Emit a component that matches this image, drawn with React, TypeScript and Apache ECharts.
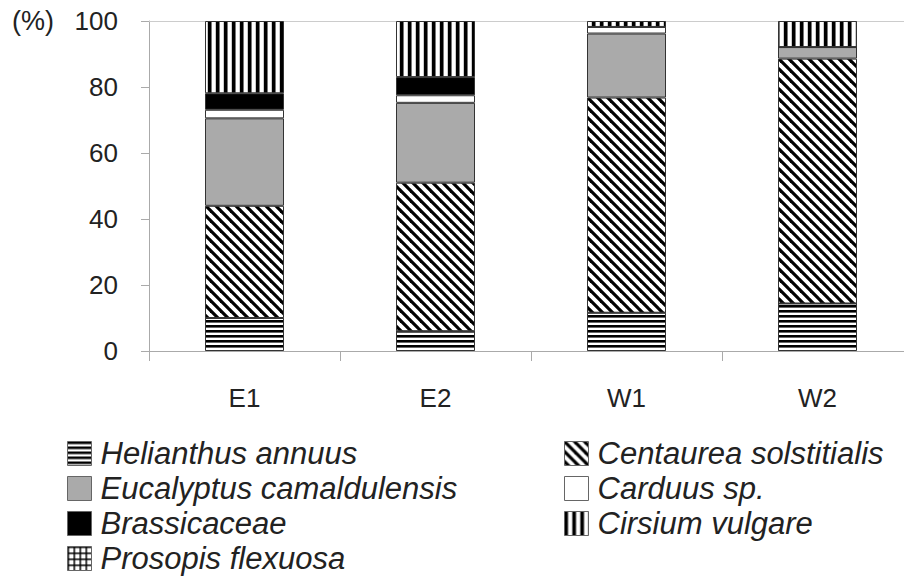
import React, { useEffect, useRef } from "react";
import * as echarts from "echarts";

const categories = ["E1", "E2", "W1", "W2"];
const helianthus = [10, 6, 11.6, 14.4];
const prosopis = [0, 0, 0, 0];
const centaurea = [34, 45, 65.2, 74.2];
const eucalyptus = [26.5, 24.2, 19.4, 3.5];
const carduus = [2.6, 2.3, 2.0, 0];
const brassicaceae = [5, 5.5, 0, 0];
const cirsium = [21.9, 17, 1.8, 7.9];
const yTicks = [0, 20, 40, 60, 80, 100];

const FONT = "Liberation Sans, Arial, Helvetica, sans-serif";

function tile(w: number, h: number, draw: (ctx: CanvasRenderingContext2D) => void) {
  const c = document.createElement("canvas");
  c.width = w;
  c.height = h;
  const ctx = c.getContext("2d")!;
  ctx.fillStyle = "#ffffff";
  ctx.fillRect(0, 0, w, h);
  draw(ctx);
  return { image: c.toDataURL(), repeat: "repeat", imageWidth: w, imageHeight: h } as any;
}

function makePatterns() {
  const horiz = tile(4, 5, (ctx) => {
    ctx.fillStyle = "#000";
    ctx.fillRect(0, 0, 4, 2);
    ctx.fillStyle = "#666";
    ctx.fillRect(0, 2, 4, 1);
  });
  const vert = tile(8, 4, (ctx) => {
    ctx.fillStyle = "#000";
    ctx.fillRect(0, 0, 3, 4);
    ctx.fillStyle = "#777";
    ctx.fillRect(3, 0, 1, 4);
    ctx.fillStyle = "#ccc";
    ctx.fillRect(7, 0, 1, 4);
  });
  const diag = tile(10, 10, (ctx) => {
    ctx.strokeStyle = "#000";
    ctx.lineWidth = 3.2;
    for (const k of [-1, 0, 1]) {
      ctx.beginPath();
      ctx.moveTo(-2, k * 10 - 2);
      ctx.lineTo(12, 10 + k * 10 + 2);
      ctx.stroke();
    }
  });
  const grid = tile(6, 6, (ctx) => {
    ctx.fillStyle = "#000";
    ctx.fillRect(0, 0, 6, 1.5);
    ctx.fillRect(0, 0, 1.5, 6);
  });
  return { horiz, vert, diag, grid };
}

export default function App() {
  const ref = useRef<HTMLDivElement>(null);
  useEffect(() => {
    if (!ref.current) return;
    const chart = echarts.init(ref.current, null, { renderer: "svg" });
    const p = makePatterns();
    const seriesDefs = [
      { name: "Helianthus annuus", data: helianthus, color: p.horiz },
      { name: "Prosopis flexuosa", data: prosopis, color: p.grid },
      { name: "Centaurea solstitialis", data: centaurea, color: p.diag },
      { name: "Eucalyptus camaldulensis", data: eucalyptus, color: "#aaaaaa" },
      { name: "Carduus sp.", data: carduus, color: "#ffffff" },
      { name: "Brassicaceae", data: brassicaceae, color: "#000000" },
      { name: "Cirsium vulgare", data: cirsium, color: p.vert },
    ];
    const legendText = {
      fontFamily: FONT,
      fontStyle: "italic" as const,
      fontSize: 31,
      lineHeight: 31,
      color: "#222",
      padding: [0, 0, 0, 4],
    };
    const legendCommon = {
      orient: "vertical",
      top: 438,
      itemWidth: 24,
      itemHeight: 24,
      itemGap: 4,
      icon: "rect",
      padding: 0,
      textStyle: legendText,
      selectedMode: false,
      itemStyle: { borderColor: "#666", borderWidth: 1 },
    };
    chart.setOption({
      animation: false,
      backgroundColor: "#ffffff",
      grid: { left: 149, top: 21, width: 764, height: 330, outerBoundsMode: "none" },
      graphic: [
        {
          type: "text",
          left: 12,
          top: 7,
          style: { text: "(%)", font: `27px ${FONT}`, fill: "#222" },
        },
      ],
      legend: [
        {
          ...legendCommon,
          data: ["Helianthus annuus", "Eucalyptus camaldulensis", "Brassicaceae", "Prosopis flexuosa"],
          left: 67,
        },
        {
          ...legendCommon,
          data: ["Centaurea solstitialis", "Carduus sp.", "Cirsium vulgare"],
          left: 564,
        },
      ],
      xAxis: [
        {
          type: "category",
          data: categories,
          axisLine: { show: true, lineStyle: { color: "#aaaaaa", width: 1 } },
          axisTick: { show: true, length: 10, lineStyle: { color: "#aaaaaa" } },
          axisLabel: { fontFamily: FONT, fontSize: 26, color: "#222", margin: 34 },
        },
        {
          type: "category",
          position: "top",
          data: categories,
          axisLine: { show: true, lineStyle: { color: "#cccccc", width: 1 } },
          axisTick: { show: false },
          axisLabel: { show: false },
        },
      ],
      yAxis: {
        type: "value",
        min: yTicks[0],
        max: yTicks[yTicks.length - 1],
        interval: 20,
        axisLine: { show: true, lineStyle: { color: "#aaaaaa", width: 1 } },
        axisTick: { show: true, length: 8, lineStyle: { color: "#aaaaaa" } },
        splitLine: { show: false },
        axisLabel: { fontFamily: FONT, fontSize: 26, color: "#222", margin: 31 },
      },
      series: seriesDefs.map((s) => ({
        name: s.name,
        type: "bar",
        stack: "total",
        barWidth: 79,
        data: s.data,
        itemStyle: { color: s.color, borderColor: "#333", borderWidth: 1 },
        emphasis: { disabled: true },
      })),
    });
    return () => chart.dispose();
  }, []);
  return (
    <div
      ref={ref}
      style={{ position: "absolute", left: 0, top: 0, width: 904, height: 579 }}
    />
  );
}
